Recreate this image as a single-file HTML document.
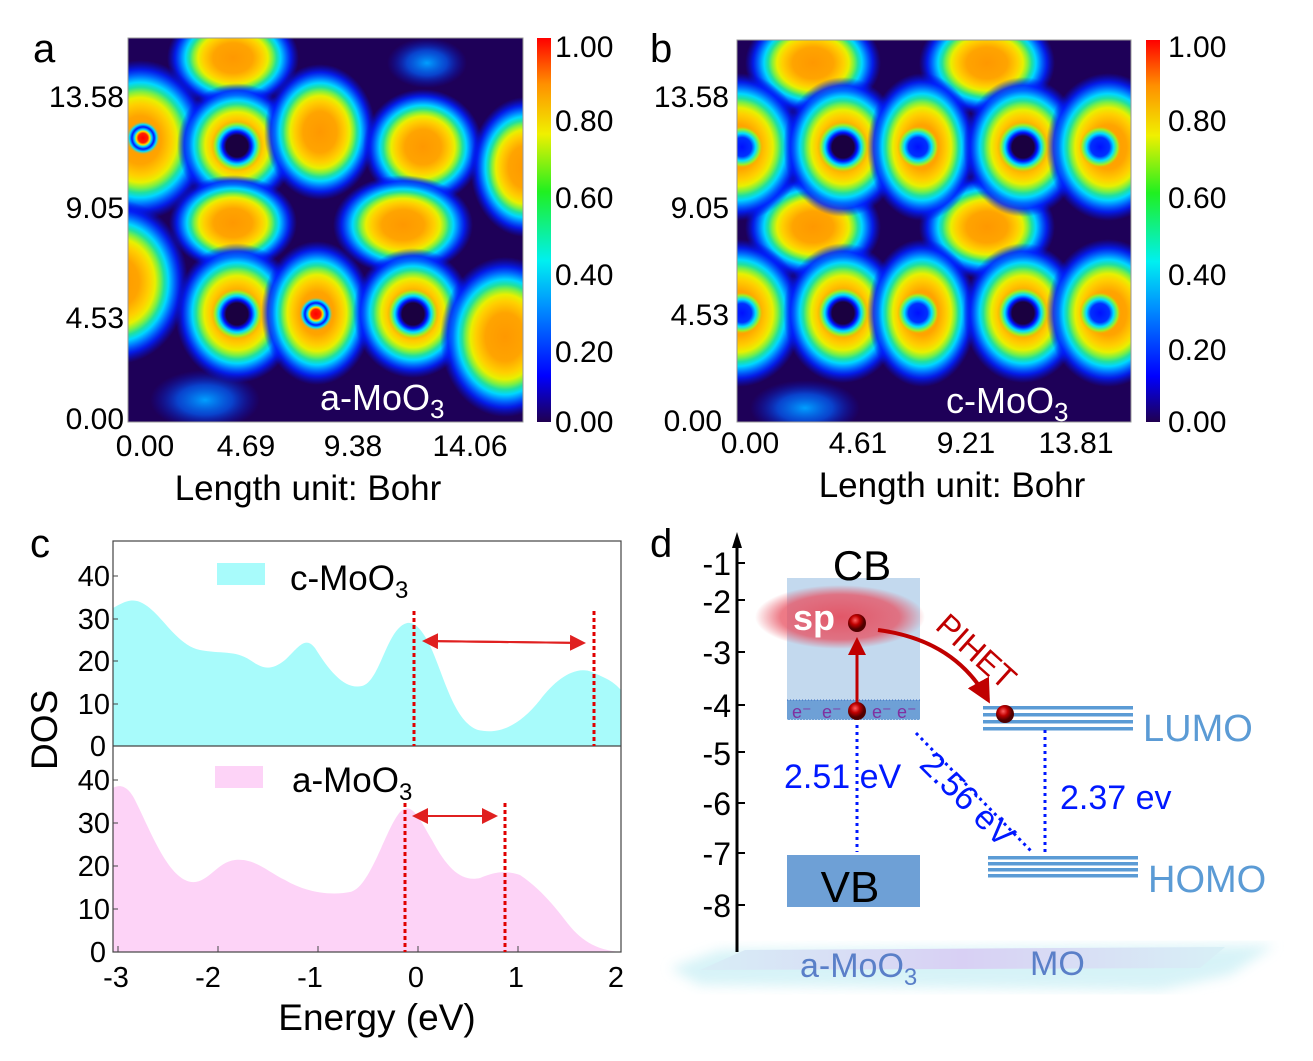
<!DOCTYPE html>
<html><head><meta charset="utf-8"><style>
body{margin:0;background:#fff;}
svg{display:block;font-family:"Liberation Sans",Arial,sans-serif;}
</style></head><body>
<svg width="1313" height="1061" viewBox="0 0 1313 1061" xmlns="http://www.w3.org/2000/svg">
<defs>
<radialGradient id="blob">
<stop offset="0" stop-color="#ff9800"/>
<stop offset="0.3" stop-color="#ffa400"/>
<stop offset="0.45" stop-color="#ffd000"/>
<stop offset="0.53" stop-color="#e8f000"/>
<stop offset="0.6" stop-color="#80f040"/>
<stop offset="0.66" stop-color="#20e0a0"/>
<stop offset="0.72" stop-color="#00d8ff"/>
<stop offset="0.8" stop-color="#0070ff"/>
<stop offset="0.88" stop-color="#0020ff" stop-opacity="0.85"/>
<stop offset="1" stop-color="#0010e0" stop-opacity="0"/>
</radialGradient>
<radialGradient id="hole">
<stop offset="0" stop-color="#1a0040"/>
<stop offset="0.42" stop-color="#1a0040"/>
<stop offset="0.55" stop-color="#0010ff"/>
<stop offset="0.7" stop-color="#00e0ff"/>
<stop offset="0.85" stop-color="#a0f020"/>
<stop offset="1" stop-color="#ffa800" stop-opacity="0"/>
</radialGradient>
<radialGradient id="bdot">
<stop offset="0" stop-color="#0010ff"/>
<stop offset="0.45" stop-color="#0030ff"/>
<stop offset="0.65" stop-color="#00e0ff"/>
<stop offset="0.85" stop-color="#a0f020"/>
<stop offset="1" stop-color="#ffa800" stop-opacity="0"/>
</radialGradient>
<radialGradient id="rdot">
<stop offset="0" stop-color="#ff0000"/>
<stop offset="0.28" stop-color="#ff2000"/>
<stop offset="0.4" stop-color="#ffe000"/>
<stop offset="0.5" stop-color="#00e0ff"/>
<stop offset="0.65" stop-color="#0010ff"/>
<stop offset="0.8" stop-color="#00e0ff"/>
<stop offset="1" stop-color="#ffa800" stop-opacity="0"/>
</radialGradient>
<radialGradient id="faint">
<stop offset="0" stop-color="#00a0ff"/>
<stop offset="0.5" stop-color="#0060ff" stop-opacity="0.7"/>
<stop offset="1" stop-color="#0010e0" stop-opacity="0"/>
</radialGradient>
<linearGradient id="cbar" x1="0" y1="1" x2="0" y2="0">
<stop offset="0" stop-color="#200050"/>
<stop offset="0.12" stop-color="#0000ff"/>
<stop offset="0.3" stop-color="#0090ff"/>
<stop offset="0.42" stop-color="#00f0f0"/>
<stop offset="0.6" stop-color="#20f020"/>
<stop offset="0.75" stop-color="#f0f000"/>
<stop offset="0.88" stop-color="#ff9000"/>
<stop offset="1" stop-color="#ff0000"/>
</linearGradient>
<radialGradient id="sp">
<stop offset="0" stop-color="#e84050" stop-opacity="0.85"/>
<stop offset="0.7" stop-color="#e85060" stop-opacity="0.75"/>
<stop offset="1" stop-color="#e85060" stop-opacity="0"/>
</radialGradient>
<radialGradient id="ball" cx="0.4" cy="0.35">
<stop offset="0" stop-color="#ff6060"/>
<stop offset="0.5" stop-color="#c00000"/>
<stop offset="1" stop-color="#500000"/>
</radialGradient>
<linearGradient id="plat" x1="0" y1="0" x2="1" y2="0">
<stop offset="0" stop-color="#d8eef6"/>
<stop offset="0.5" stop-color="#d8d0f4"/>
<stop offset="1" stop-color="#d8f0f6"/>
</linearGradient>
<filter id="blur"><feGaussianBlur stdDeviation="6"/></filter>
<clipPath id="ca"><rect x="128" y="38" width="395" height="384"/></clipPath>
<clipPath id="cb"><rect x="737" y="40" width="394" height="382"/></clipPath>
<marker id="ar" markerWidth="8" markerHeight="8" refX="7" refY="4" orient="auto"><path d="M0,0 L8,4 L0,8 z" fill="#e02020"/></marker>
<marker id="ar2" markerWidth="6" markerHeight="6" refX="5" refY="3" orient="auto"><path d="M0,0 L6,3 L0,6 z" fill="#c00000"/></marker>
</defs>

<!-- Panel a -->
<text x="33" y="62" font-size="40">a</text>
<g clip-path="url(#ca)">
<rect x="128" y="38" width="395" height="384" fill="#1e0058"/>
<ellipse cx="427" cy="63" rx="40" ry="25" fill="url(#faint)"/>
<ellipse cx="205" cy="400" rx="55" ry="30" fill="url(#faint)"/>
<ellipse cx="233" cy="58" rx="66" ry="50" fill="url(#blob)"/>
<ellipse cx="140" cy="140" rx="70" ry="80" fill="url(#blob)"/>
<ellipse cx="237" cy="145" rx="60" ry="62" fill="url(#blob)"/>
<ellipse cx="320" cy="132" rx="56" ry="68" fill="url(#blob)"/>
<ellipse cx="423" cy="147" rx="60" ry="58" fill="url(#blob)"/>
<ellipse cx="525" cy="167" rx="55" ry="70" fill="url(#blob)"/>
<ellipse cx="233" cy="223" rx="64" ry="48" fill="url(#blob)"/>
<ellipse cx="403" cy="225" rx="70" ry="50" fill="url(#blob)"/>
<ellipse cx="118" cy="282" rx="70" ry="82" fill="url(#blob)"/>
<ellipse cx="237" cy="313" rx="62" ry="70" fill="url(#blob)"/>
<ellipse cx="317" cy="313" rx="56" ry="72" fill="url(#blob)"/>
<ellipse cx="413" cy="313" rx="60" ry="65" fill="url(#blob)"/>
<ellipse cx="505" cy="337" rx="65" ry="80" fill="url(#blob)"/>
<circle cx="143" cy="138" r="17" fill="url(#rdot)"/>
<circle cx="237" cy="146" r="26" fill="url(#hole)"/>
<circle cx="237" cy="314" r="26" fill="url(#hole)"/>
<circle cx="316" cy="314" r="17" fill="url(#rdot)"/>
<circle cx="413" cy="314" r="26" fill="url(#hole)"/>
</g>
<rect x="128" y="38" width="395" height="384" fill="none" stroke="#999" stroke-width="1"/>
<text x="320" y="410" font-size="36" fill="#fff">a-MoO<tspan font-size="26" dy="8">3</tspan></text>
<rect x="537" y="38" width="14" height="384" fill="url(#cbar)"/>
<g font-size="30" fill="#000">
<text x="555" y="57">1.00</text><text x="555" y="131">0.80</text><text x="555" y="208">0.60</text><text x="555" y="285">0.40</text><text x="555" y="362">0.20</text><text x="555" y="432">0.00</text>
<text x="124" y="107" text-anchor="end">13.58</text><text x="124" y="218" text-anchor="end">9.05</text><text x="124" y="328" text-anchor="end">4.53</text><text x="124" y="429" text-anchor="end">0.00</text>
<text x="145" y="456" text-anchor="middle">0.00</text><text x="246" y="456" text-anchor="middle">4.69</text><text x="353" y="456" text-anchor="middle">9.38</text><text x="470" y="456" text-anchor="middle">14.06</text>
<text x="308" y="500" text-anchor="middle" font-size="35">Length unit: Bohr</text>
</g>

<!-- Panel b -->
<text x="650" y="62" font-size="40">b</text>
<g clip-path="url(#cb)">
<rect x="737" y="40" width="394" height="382" fill="#1e0058"/>
<ellipse cx="805" cy="408" rx="55" ry="28" fill="url(#faint)"/>
<ellipse cx="813" cy="63" rx="68" ry="52" fill="url(#blob)"/>
<ellipse cx="987" cy="63" rx="68" ry="52" fill="url(#blob)"/>
<ellipse cx="813" cy="227" rx="68" ry="52" fill="url(#blob)"/>
<ellipse cx="987" cy="227" rx="68" ry="52" fill="url(#blob)"/>
<ellipse cx="738" cy="147" rx="66" ry="74" fill="url(#blob)"/>
<ellipse cx="843" cy="147" rx="60" ry="70" fill="url(#blob)"/>
<ellipse cx="922" cy="147" rx="55" ry="74" fill="url(#blob)"/>
<ellipse cx="1023" cy="147" rx="60" ry="70" fill="url(#blob)"/>
<ellipse cx="1108" cy="147" rx="62" ry="74" fill="url(#blob)"/>
<ellipse cx="738" cy="313" rx="66" ry="74" fill="url(#blob)"/>
<ellipse cx="843" cy="313" rx="60" ry="70" fill="url(#blob)"/>
<ellipse cx="922" cy="313" rx="55" ry="74" fill="url(#blob)"/>
<ellipse cx="1023" cy="313" rx="60" ry="70" fill="url(#blob)"/>
<ellipse cx="1108" cy="313" rx="62" ry="74" fill="url(#blob)"/>
<circle cx="742" cy="147" r="21" fill="url(#bdot)"/>
<circle cx="843" cy="147" r="26" fill="url(#hole)"/>
<circle cx="918" cy="147" r="21" fill="url(#bdot)"/>
<circle cx="1023" cy="147" r="26" fill="url(#hole)"/>
<circle cx="1100" cy="147" r="21" fill="url(#bdot)"/>
<circle cx="742" cy="313" r="21" fill="url(#bdot)"/>
<circle cx="843" cy="313" r="26" fill="url(#hole)"/>
<circle cx="918" cy="313" r="21" fill="url(#bdot)"/>
<circle cx="1023" cy="313" r="26" fill="url(#hole)"/>
<circle cx="1100" cy="313" r="21" fill="url(#bdot)"/>
</g>
<rect x="737" y="40" width="394" height="382" fill="none" stroke="#999" stroke-width="1"/>
<text x="946" y="413" font-size="36" fill="#fff">c-MoO<tspan font-size="26" dy="8">3</tspan></text>
<rect x="1146" y="40" width="14" height="382" fill="url(#cbar)"/>
<g font-size="30" fill="#000">
<text x="1168" y="57">1.00</text><text x="1168" y="131">0.80</text><text x="1168" y="208">0.60</text><text x="1168" y="285">0.40</text><text x="1168" y="360">0.20</text><text x="1168" y="432">0.00</text>
<text x="729" y="107" text-anchor="end">13.58</text><text x="729" y="218" text-anchor="end">9.05</text><text x="729" y="325" text-anchor="end">4.53</text><text x="722" y="431" text-anchor="end">0.00</text>
<text x="750" y="453" text-anchor="middle">0.00</text><text x="858" y="453" text-anchor="middle">4.61</text><text x="966" y="453" text-anchor="middle">9.21</text><text x="1076" y="453" text-anchor="middle">13.81</text>
<text x="952" y="497" text-anchor="middle" font-size="35">Length unit: Bohr</text>
</g>

<!-- Panel c -->
<text x="30" y="557" font-size="40">c</text>
<path d="M113,746 L113,608 C122,603 130,598 140,602 C160,610 175,645 200,650 C220,654 235,650 250,660 C262,668 270,672 285,660 C298,648 305,635 315,648 C330,672 345,690 362,686 C378,682 385,640 400,627 C412,616 422,628 432,650 C445,680 455,722 478,730 C500,735 520,725 540,700 C555,680 575,665 592,672 C605,678 612,680 621,690 L621,746 Z" fill="#a8fbfb"/>
<path d="M113,952 L113,788 C120,784 128,786 135,800 C150,830 165,870 185,880 C205,890 215,862 235,860 C255,858 268,872 285,880 C305,892 330,896 350,892 C370,888 385,830 400,812 C412,800 420,820 432,840 C448,870 462,882 480,878 C495,872 505,870 520,875 C535,885 550,900 565,920 C580,940 595,950 621,952 Z" fill="#fdd3f7"/>
<rect x="113" y="541" width="508" height="411" fill="none" stroke="#444" stroke-width="1.2"/>
<line x1="113" y1="746" x2="621" y2="746" stroke="#444" stroke-width="1.2"/>
<g stroke="#444" stroke-width="1">
<line x1="113" y1="576" x2="118" y2="576"/><line x1="113" y1="619" x2="118" y2="619"/><line x1="113" y1="661" x2="118" y2="661"/><line x1="113" y1="704" x2="118" y2="704"/>
<line x1="113" y1="780" x2="118" y2="780"/><line x1="113" y1="823" x2="118" y2="823"/><line x1="113" y1="866" x2="118" y2="866"/><line x1="113" y1="909" x2="118" y2="909"/>
<line x1="118" y1="952" x2="118" y2="946"/><line x1="218" y1="952" x2="218" y2="946"/><line x1="318" y1="952" x2="318" y2="946"/><line x1="418" y1="952" x2="418" y2="946"/><line x1="518" y1="952" x2="518" y2="946"/>
</g>
<g font-size="29" text-anchor="end">
<text x="110" y="586">40</text><text x="110" y="629">30</text><text x="110" y="671">20</text><text x="110" y="714">10</text><text x="106" y="756">0</text>
<text x="110" y="790">40</text><text x="110" y="833">30</text><text x="110" y="876">20</text><text x="110" y="919">10</text><text x="106" y="962">0</text>
</g>
<g font-size="29" text-anchor="middle">
<text x="116" y="987">-3</text><text x="208" y="987">-2</text><text x="310" y="987">-1</text><text x="416" y="987">0</text><text x="516" y="987">1</text><text x="616" y="987">2</text>
</g>
<text x="377" y="1030" font-size="37" text-anchor="middle">Energy (eV)</text>
<text transform="translate(57,770) rotate(-90)" font-size="37">DOS</text>
<rect x="217" y="563" width="48" height="22" fill="#a8fbfb"/>
<text x="290" y="590" font-size="35">c-MoO<tspan font-size="24" dy="8">3</tspan></text>
<rect x="215" y="766" width="48" height="22" fill="#fdd3f7"/>
<text x="292" y="792" font-size="35">a-MoO<tspan font-size="24" dy="8">3</tspan></text>
<g stroke="#e00000" stroke-width="3" stroke-dasharray="4,3">
<line x1="414" y1="611" x2="414" y2="746"/><line x1="594" y1="611" x2="594" y2="746"/>
<line x1="405" y1="803" x2="405" y2="952"/><line x1="505" y1="803" x2="505" y2="952"/>
</g>
<line x1="424" y1="641" x2="584" y2="643" stroke="#e02020" stroke-width="2" marker-end="url(#ar)"/>
<line x1="584" y1="643" x2="424" y2="641" stroke="#e02020" stroke-width="2" marker-end="url(#ar)"/>
<line x1="414" y1="816" x2="496" y2="816" stroke="#e02020" stroke-width="2" marker-end="url(#ar)"/>
<line x1="496" y1="816" x2="414" y2="816" stroke="#e02020" stroke-width="2" marker-end="url(#ar)"/>

<!-- Panel d -->
<text x="650" y="557" font-size="40">d</text>
<polygon points="670,968 720,950 1275,945 1230,975 1160,990 700,985" fill="#c6eef4" opacity="0.7" filter="url(#blur)"/>
<polygon points="700,970 745,950 1225,947 1200,968" fill="url(#plat)"/>
<text x="800" y="977" font-size="34" fill="#5a7fc8">a-MoO<tspan font-size="24" dy="8">3</tspan></text>
<text x="1030" y="975" font-size="34" fill="#5a7fc8">MO</text>
<line x1="737" y1="952" x2="737" y2="545" stroke="#000" stroke-width="3"/>
<path d="M732,548 L737,532 L742,548 Z" fill="#000"/>
<g stroke="#000" stroke-width="2">
<line x1="737" y1="563" x2="745" y2="563"/><line x1="737" y1="600" x2="745" y2="600"/><line x1="737" y1="652" x2="745" y2="652"/><line x1="737" y1="705" x2="745" y2="705"/><line x1="737" y1="752" x2="745" y2="752"/><line x1="737" y1="803" x2="745" y2="803"/><line x1="737" y1="853" x2="745" y2="853"/><line x1="737" y1="905" x2="745" y2="905"/>
</g>
<g font-size="32" text-anchor="end">
<text x="731" y="575">-1</text><text x="731" y="613">-2</text><text x="731" y="664">-3</text><text x="731" y="717">-4</text><text x="731" y="765">-5</text><text x="731" y="815">-6</text><text x="731" y="865">-7</text><text x="731" y="917">-8</text>
</g>
<rect x="787" y="578" width="133" height="122" fill="#c3d9ee"/>
<rect x="787" y="700" width="133" height="20" fill="#6ea0d6"/>
<line x1="787" y1="700" x2="920" y2="700" stroke="#3a6ac0" stroke-dasharray="1,2"/>
<line x1="787" y1="720" x2="920" y2="720" stroke="#ffffff" stroke-dasharray="1,2"/>
<g font-size="18" fill="#8030a0"><text x="792" y="718">e⁻</text><text x="822" y="718">e⁻</text><text x="872" y="718">e⁻</text><text x="897" y="718">e⁻</text></g>
<text x="862" y="580" font-size="42" text-anchor="middle">CB</text>
<ellipse cx="840" cy="617" rx="85" ry="32" fill="url(#sp)"/>
<text x="793" y="630" font-size="36" font-weight="bold" fill="#fff">sp</text>
<line x1="857" y1="708" x2="857" y2="640" stroke="#c00000" stroke-width="3" marker-end="url(#ar2)"/>
<path d="M878,630 Q955,640 988,700" fill="none" stroke="#c00000" stroke-width="4" marker-end="url(#ar2)"/>
<text transform="translate(934,628) rotate(42)" font-size="32" fill="#c00000">PIHET</text>
<g fill="#5b9bd5">
<rect x="983" y="706" width="150" height="3.5"/><rect x="983" y="713" width="150" height="3.5"/><rect x="983" y="720" width="150" height="3.5"/><rect x="983" y="727" width="150" height="3.5"/>
<rect x="988" y="856" width="150" height="3.5"/><rect x="988" y="862" width="150" height="3.5"/><rect x="988" y="868" width="150" height="3.5"/><rect x="988" y="874" width="150" height="3.5"/>
</g>
<circle cx="857" cy="623" r="9" fill="url(#ball)"/>
<circle cx="857" cy="711" r="9" fill="url(#ball)"/>
<circle cx="1005" cy="714" r="9" fill="url(#ball)"/>
<text x="1143" y="741" font-size="38" fill="#5b9bd5">LUMO</text>
<text x="1148" y="892" font-size="38" fill="#5b9bd5">HOMO</text>
<rect x="787" y="855" width="133" height="52" fill="#6ea0d6"/>
<text x="850" y="902" font-size="44" text-anchor="middle">VB</text>
<g stroke="#0018ff" stroke-width="3" stroke-dasharray="3,4" fill="none">
<line x1="857" y1="725" x2="857" y2="852"/>
<line x1="1045" y1="730" x2="1045" y2="855"/>
<line x1="916" y1="733" x2="1032" y2="852"/>
</g>
<text x="784" y="788" font-size="34" fill="#0018ff">2.51 eV</text>
<text x="1060" y="809" font-size="34" fill="#0018ff">2.37 ev</text>
<text transform="translate(918,766) rotate(45)" font-size="34" fill="#0018ff">2.56 eV</text>
</svg>
</body></html>
